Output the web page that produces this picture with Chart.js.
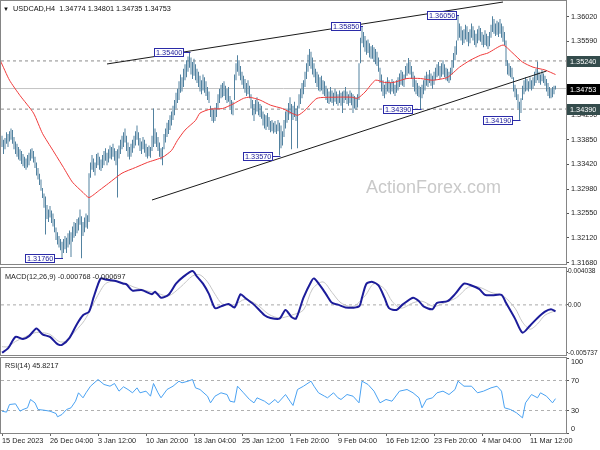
<!DOCTYPE html>
<html><head><meta charset="utf-8">
<script src="https://cdn.jsdelivr.net/npm/chart.js@4/dist/chart.umd.min.js"></script>
<style>
html,body{margin:0;padding:0;background:#fff;}
#wrap{position:relative;width:600px;height:450px;overflow:hidden;background:#fff;}
canvas{position:absolute;left:0;top:0;}
</style></head><body>
<div id="wrap">
<canvas id="c1" width="600" height="450"></canvas>
<canvas id="c2" width="600" height="450"></canvas>
<canvas id="c3" width="600" height="450"></canvas>
</div>
<script>
// ---------- DATA ----------
const symbolTitle = 'USDCAD,H4  1.34774 1.34801 1.34735 1.34753';
const tickIdx = [0, 32, 64, 96, 128, 160, 192, 224, 256, 288, 320, 352];
const tickLabels = ['15 Dec 2023','26 Dec 04:00','3 Jan 12:00','10 Jan 20:00','18 Jan 04:00','25 Jan 12:00','1 Feb 20:00','9 Feb 04:00','16 Feb 12:00','23 Feb 20:00','4 Mar 04:00','11 Mar 12:00'];
const priceTicks = [1.31680,1.32120,1.32550,1.32980,1.33420,1.33850,1.34290,1.34720,1.35160,1.35590,1.36020];

const highs = [
1.3392,1.3385,1.3388,1.3398,1.3395,1.3400,1.3405,1.3402,1.3390,1.3382,
1.3378,1.3372,1.3368,1.3365,1.3360,1.3355,1.3352,1.3358,1.3362,1.3368,
1.3370,1.3365,1.3355,1.3345,1.3335,1.3325,1.3315,1.3300,1.3290,1.3285,
1.3270,1.3262,1.3268,1.3260,1.3255,1.3245,1.3230,1.3222,1.3215,1.3210,
1.3205,1.3210,1.3215,1.3212,1.3220,1.3225,1.3222,1.3232,1.3240,1.3238,
1.3245,1.3248,1.3262,1.3250,1.3240,1.3248,1.3255,1.3252,1.3326,1.3345,
1.3358,1.3352,1.3345,1.3360,1.3362,1.3355,1.3350,1.3358,1.3365,1.3370,
1.3362,1.3368,1.3375,1.3372,1.3378,1.3370,1.3365,1.3368,1.3375,1.3385,
1.3392,1.3398,1.3405,1.3392,1.3380,1.3372,1.3378,1.3385,1.3392,1.3400,
1.3410,1.3398,1.3388,1.3382,1.3390,1.3385,1.3378,1.3372,1.3375,1.3372,
1.3392,1.3440,1.3405,1.3398,1.3390,1.3380,1.3370,1.3372,1.3395,1.3405,
1.3415,1.3420,1.3428,1.3435,1.3445,1.3455,1.3468,1.3475,1.3488,1.3500,
1.3495,1.3510,1.3518,1.3525,1.3532,1.3540,1.3530,1.3522,1.3528,1.3518,
1.3510,1.3505,1.3498,1.3490,1.3500,1.3495,1.3488,1.3478,1.3470,1.3445,
1.3440,1.3438,1.3442,1.3450,1.3465,1.3475,1.3482,1.3485,1.3488,1.3480,
1.3475,1.3478,1.3462,1.3455,1.3452,1.3500,1.3520,1.3534,1.3525,1.3515,
1.3505,1.3498,1.3492,1.3485,1.3490,1.3480,1.3465,1.3455,1.3448,1.3455,
1.3460,1.3452,1.3448,1.3445,1.3435,1.3430,1.3428,1.3432,1.3425,1.3418,
1.3420,1.3415,1.3418,1.3412,1.3420,1.3415,1.3410,1.3400,1.3420,1.3435,
1.3440,1.3450,1.3460,1.3448,1.3445,1.3452,1.3440,1.3445,1.3465,1.3475,
1.3485,1.3490,1.3505,1.3520,1.3535,1.3545,1.3540,1.3530,1.3520,1.3510,
1.3505,1.3500,1.3495,1.3498,1.3490,1.3488,1.3480,1.3475,1.3470,1.3478,
1.3472,1.3468,1.3475,1.3470,1.3465,1.3472,1.3468,1.3470,1.3472,1.3478,
1.3470,1.3465,1.3472,1.3468,1.3465,1.3462,1.3460,1.3465,1.3520,1.3565,
1.3585,1.3575,1.3568,1.3560,1.3562,1.3555,1.3550,1.3552,1.3548,1.3545,
1.3540,1.3530,1.3512,1.3500,1.3490,1.3482,1.3488,1.3495,1.3490,1.3485,
1.3492,1.3488,1.3482,1.3490,1.3495,1.3502,1.3508,1.3505,1.3500,1.3515,
1.3520,1.3529,1.3522,1.3515,1.3505,1.3498,1.3490,1.3485,1.3480,1.3478,
1.3482,1.3490,1.3498,1.3505,1.3500,1.3508,1.3502,1.3498,1.3505,1.3512,
1.3518,1.3522,1.3515,1.3520,1.3525,1.3518,1.3512,1.3510,1.3505,1.3512,
1.3525,1.3538,1.3550,1.3560,1.3605,1.3590,1.3585,1.3578,1.3580,1.3588,
1.3585,1.3575,1.3580,1.3590,1.3585,1.3578,1.3572,1.3580,1.3586,1.3582,
1.3575,1.3570,1.3578,1.3572,1.3568,1.3575,1.3588,1.3603,1.3598,1.3590,
1.3595,1.3592,1.3598,1.3590,1.3585,1.3575,1.3560,1.3525,1.3520,1.3515,
1.3512,1.3495,1.3482,1.3475,1.3465,1.3452,1.3458,1.3480,1.3490,1.3495,
1.3492,1.3488,1.3495,1.3490,1.3495,1.3505,1.3510,1.3523,1.3505,1.3500,
1.3508,1.3502,1.3498,1.3492,1.3485,1.3478,1.3475,1.3478,1.3480,1.34801
];
const lows = [
1.3372,1.3360,1.3368,1.3378,1.3372,1.3382,1.3385,1.3378,1.3368,1.3360,
1.3355,1.3350,1.3348,1.3342,1.3338,1.3335,1.3332,1.3336,1.3340,1.3348,
1.3352,1.3345,1.3335,1.3322,1.3315,1.3305,1.3295,1.3282,1.3265,1.3218,
1.3245,1.3240,1.3248,1.3238,1.3232,1.3222,1.3208,1.3200,1.3195,1.3190,
1.3176,1.3185,1.3192,1.3185,1.3195,1.3200,1.3178,1.3205,1.3212,1.3215,
1.3220,1.3225,1.3235,1.3176,1.3215,1.3222,1.3230,1.3228,1.3240,1.3318,
1.3332,1.3328,1.3322,1.3335,1.3340,1.3332,1.3330,1.3335,1.3340,1.3348,
1.3340,1.3345,1.3352,1.3350,1.3355,1.3348,1.3340,1.3283,1.3352,1.3360,
1.3368,1.3372,1.3380,1.3365,1.3355,1.3350,1.3355,1.3362,1.3370,1.3375,
1.3385,1.3375,1.3365,1.3360,1.3368,1.3362,1.3355,1.3352,1.3356,1.3353,
1.3365,1.3372,1.3378,1.3372,1.3365,1.3355,1.3350,1.3340,1.3368,1.3380,
1.3390,1.3395,1.3402,1.3410,1.3420,1.3428,1.3440,1.3450,1.3455,1.3468,
1.3470,1.3478,1.3490,1.3495,1.3505,1.3512,1.3500,1.3492,1.3498,1.3490,
1.3485,1.3478,1.3470,1.3465,1.3472,1.3468,1.3462,1.3455,1.3450,1.3425,
1.3418,1.3415,1.3418,1.3425,1.3440,1.3450,1.3458,1.3460,1.3462,1.3455,
1.3450,1.3452,1.3440,1.3430,1.3428,1.3455,1.3490,1.3505,1.3498,1.3490,
1.3482,1.3475,1.3468,1.3462,1.3465,1.3458,1.3440,1.3428,1.3418,1.3430,
1.3435,1.3428,1.3425,1.3422,1.3410,1.3405,1.3402,1.3408,1.3402,1.3398,
1.3400,1.3396,1.3398,1.3395,1.3400,1.3357,1.3370,1.3375,1.3390,1.3405,
1.3415,1.3420,1.3430,1.3368,1.3420,1.3425,1.3418,1.3370,1.3440,1.3448,
1.3458,1.3465,1.3478,1.3492,1.3505,1.3515,1.3510,1.3500,1.3495,1.3485,
1.3478,1.3472,1.3470,1.3472,1.3465,1.3462,1.3455,1.3450,1.3448,1.3452,
1.3450,1.3445,1.3452,1.3448,1.3445,1.3450,1.3445,1.3432,1.3450,1.3455,
1.3448,1.3445,1.3450,1.3446,1.3432,1.3440,1.3438,1.3442,1.3455,1.3520,
1.3555,1.3548,1.3540,1.3535,1.3538,1.3530,1.3528,1.3528,1.3522,1.3518,
1.3515,1.3505,1.3485,1.3470,1.3462,1.3458,1.3465,1.3470,1.3468,1.3465,
1.3470,1.3466,1.3462,1.3468,1.3472,1.3478,1.3482,1.3480,1.3478,1.3492,
1.3498,1.3502,1.3500,1.3492,1.3478,1.3470,1.3465,1.3462,1.3460,1.3439,
1.3458,1.3465,1.3472,1.3480,1.3478,1.3485,1.3480,1.3475,1.3482,1.3490,
1.3495,1.3498,1.3492,1.3496,1.3500,1.3495,1.3490,1.3488,1.3485,1.3490,
1.3500,1.3512,1.3525,1.3535,1.3560,1.3565,1.3560,1.3552,1.3555,1.3562,
1.3558,1.3550,1.3555,1.3565,1.3560,1.3552,1.3548,1.3555,1.3560,1.3558,
1.3552,1.3548,1.3552,1.3550,1.3545,1.3550,1.3565,1.3575,1.3572,1.3568,
1.3570,1.3566,1.3572,1.3565,1.3558,1.3552,1.3515,1.3500,1.3498,1.3495,
1.3492,1.3470,1.3460,1.3455,1.3440,1.3419,1.3432,1.3455,1.3465,1.3470,
1.3472,1.3470,1.3475,1.3472,1.3475,1.3480,1.3485,1.3490,1.3485,1.3482,
1.3488,1.3485,1.3480,1.3470,1.3462,1.3458,1.3458,1.3460,1.3465,1.34735
];

const maIdx = [-1,5,12,21,27,34,41,47,54,58,65,71,80,89,97,107,113,117,122,129,132,139,147,154,161,165,172,179,187,197,202,210,222,233,237,242,249,255,261,270,279,287,297,305,312,319,324,334,340,347,354,362,369];
const maVal = [1.3524,1.3490,1.3463,1.3432,1.3396,1.3366,1.3336,1.3310,1.3292,1.3283,1.3296,1.3308,1.3326,1.3336,1.3345,1.3354,1.3366,1.3384,1.3402,1.3419,1.3432,1.3439,1.3440,1.3448,1.3458,1.3460,1.3455,1.3446,1.3440,1.3428,1.3437,1.3458,1.3460,1.3460,1.3458,1.3469,1.3490,1.3486,1.3486,1.3493,1.3493,1.3490,1.3495,1.3513,1.3525,1.3534,1.3538,1.3552,1.3539,1.3522,1.3513,1.3508,1.3500];

const trendUpperIdx = [70, 334];
const trendUpperVal = [1.35186, 1.36279];
const trendLowerIdx = [100, 363];
const trendLowerVal = [1.32787, 1.35062];

const levelLines = [1.35240, 1.34390];
const lastPrice = 1.34753;

const markIdx = [40, 125, 185, 240, 279, 304, 345];
const markVal = [1.31760, 1.35400, 1.33570, 1.35850, 1.34390, 1.36050, 1.34190];

const macdTitle = 'MACD(12,26,9) -0.000768 -0.000697';
const macdTicks = [0.004038, 0, -0.005737];
const macdIdx = [0,4,9,14,18,23,27,32,37,40,45,50,54,58,61,64,66,69,75,81,83,87,93,100,102,106,111,116,121,127,130,134,138,142,146,151,155,159,162,168,175,179,185,189,193,196,201,206,208,212,216,220,224,229,238,240,243,247,251,255,258,263,267,274,278,281,287,290,297,302,308,313,318,322,327,333,336,342,347,352,357,362,366,369];
const macdVal = [-0.00570,-0.00520,-0.00382,-0.00407,-0.00373,-0.00281,-0.00352,-0.00382,-0.00469,-0.00478,-0.00394,-0.00227,-0.00123,-0.00081,0.00086,0.00245,0.00316,0.00303,0.00287,0.00253,0.00245,0.00170,0.00178,0.00128,0.00157,0.00086,0.00120,0.00253,0.00337,0.00403,0.00337,0.00253,0.00128,-0.00039,-0.00018,0.00011,-0.00031,0.00128,0.00086,0.00003,-0.00123,-0.00156,-0.00164,-0.00060,-0.00144,-0.00164,0.00086,0.00274,0.00316,0.00232,0.00128,0.00024,0.00003,-0.00031,-0.00018,0.00086,0.00253,0.00274,0.00232,0.00086,-0.00039,-0.00060,0.00003,0.00086,0.00044,-0.00018,-0.00052,0.00024,0.00044,0.00128,0.00253,0.00232,0.00191,0.00120,0.00115,0.00120,0.00024,-0.00164,-0.00332,-0.00248,-0.00156,-0.00081,-0.00052,-0.000768];
const signalIdx = [0,4,9,14,22,27,32,38,42,49,55,60,65,69,74,81,88,96,104,111,119,127,132,137,142,147,155,162,170,178,185,193,201,207,214,220,226,234,242,248,255,260,266,274,280,288,295,303,311,318,326,334,342,347,352,357,362,369];
const signalVal = [-0.00499,-0.00499,-0.00436,-0.00394,-0.00332,-0.00332,-0.00352,-0.00436,-0.00436,-0.00311,-0.00185,-0.00018,0.00149,0.00253,0.00283,0.00262,0.00212,0.00170,0.00136,0.00107,0.00212,0.00345,0.00358,0.00274,0.00128,0.00011,0.00003,0.00065,0.00003,-0.00114,-0.00156,-0.00123,-0.00060,0.00191,0.00274,0.00149,0.00024,-0.00018,0.00107,0.00253,0.00191,0.00044,-0.00039,0.00024,0.00044,-0.00018,0.00024,0.00086,0.00212,0.00212,0.00149,0.00107,-0.00039,-0.00206,-0.00290,-0.00227,-0.00123,-0.000697];

const rsiTitle = 'RSI(14) 45.8217';
const rsiTicks = [0, 30, 70, 100];
const rsiLevels = [70, 30];
const rsiIdx = [0,3,5,9,12,14,17,19,22,24,28,32,36,37,40,43,46,49,51,54,56,59,64,68,72,75,78,81,84,87,90,92,96,99,101,104,106,110,114,118,120,124,127,129,132,137,139,142,146,150,152,155,157,161,165,168,170,175,178,182,184,189,192,194,197,201,206,208,211,215,217,221,224,226,230,234,238,240,244,248,252,256,260,265,270,274,278,280,283,287,290,294,298,302,304,308,313,317,321,326,330,333,335,339,343,347,349,353,357,359,363,367,369];
const rsiVal = [29.1,27.8,38,38.9,29.1,31.3,33.6,44.7,40.2,31.3,30.4,29.1,26,21.6,24.7,31.3,33.6,42.4,53.6,46.9,53.6,62.4,71.3,64.7,62.4,66,55.8,61.6,58,53.6,60.2,53.6,55.8,49.1,66,53.6,46.9,58,62.4,69.1,66.9,69.1,71.3,60.2,58,49.1,40.2,49.1,53.6,51.3,42.4,41.1,62.4,53.6,44.7,40.2,46.9,42.4,38,44.7,40.2,51.3,42.4,36.7,58,62.4,69.1,62.4,53.6,49.1,46.9,53.6,46.9,44.7,51.3,49.1,40.2,69.1,64.7,55.8,40.2,44.7,42.4,55.8,58,53.6,46.9,33.6,44.7,46.9,53.6,55.8,51.3,58,69.1,62.4,62.4,53.6,55.8,60.2,62.4,55.8,33.6,31.3,26.9,20.2,40.2,51.3,46.9,53.6,49.1,40.2,45.8217];

// ---------- STYLE / LAYOUT ----------
const FONT = "'Liberation Sans', Arial, sans-serif";
const FS = 7.3;
Chart.defaults.font.family = FONT;
Chart.defaults.font.size = FS;
Chart.defaults.color = '#1e1e1e';
Chart.defaults.animation = false;
Chart.defaults.plugins.legend.display = false;
Chart.defaults.plugins.tooltip.enabled = false;

const X_MIN = -0.667, X_MAX = 376;
const AXIS_W = 34;

function xAxis(show) {
  return {
    type: 'linear', min: X_MIN, max: X_MAX, offset: false, display: show,
    grid: { display: true, drawOnChartArea: false, drawTicks: true, tickLength: 3, color: '#666' },
    border: { display: false },
    ticks: { autoSkip: false, maxRotation: 0, minRotation: 0, align: 'start', padding: 1, color: '#1e1e1e',
      font: { size: FS },
      callback: (v) => { const k = tickIdx.indexOf(v); return k >= 0 ? tickLabels[k] : ''; } },
    afterBuildTicks: (s) => { s.ticks = tickIdx.map(v => ({ value: v })); },
    afterFit: (s) => { s.height = show ? 14 : 0; s.paddingLeft = 0; s.paddingRight = 0; }
  };
}
function yAxis(min, max, ticks, fmt, pad, fsize, tlen) {
  return {
    type: 'linear', position: 'right', min: min, max: max,
    grid: { display: true, drawOnChartArea: false, drawTicks: true, tickLength: tlen || 3, color: '#555' },
    border: { display: true, color: '#6a6a6a', width: 1 },
    ticks: { autoSkip: false, padding: pad, color: '#1e1e1e', font: { size: fsize || FS }, callback: fmt },
    afterBuildTicks: (s) => { s.ticks = ticks.map(v => ({ value: v })); },
    afterFit: (s) => { s.width = AXIS_W; s.paddingTop = 0; s.paddingBottom = 0; }
  };
}
const panelFrame = {
  id: 'panelFrame',
  afterDraw(chart) {
    const { ctx, chartArea: a } = chart;
    ctx.save();
    ctx.strokeStyle = '#858585'; ctx.lineWidth = 1;
    const L = Math.round(a.left) - 0.5, T = Math.round(a.top) - 0.5;
    const R = Math.round(a.right) + 0.5, B = Math.round(a.bottom) + 0.5;
    ctx.strokeRect(L, T, R - L, B - T);
    ctx.restore();
  }
};
function panelTitle(text, x, y) {
  return {
    id: 'title_' + Math.round(y),
    afterDraw(chart) {
      const ctx = chart.ctx;
      ctx.save();
      ctx.font = FS + 'px ' + FONT;
      ctx.fillStyle = '#1e1e1e';
      ctx.textBaseline = 'alphabetic';
      ctx.fillText(text, x, y);
      ctx.restore();
    }
  };
}
const pts = (idx, val) => idx.map((v, k) => ({ x: v, y: val[k] }));
const hline = (v) => [{ x: X_MIN, y: v }, { x: X_MAX, y: v }];

// ---------- MAIN PANEL ----------
const mainDecor = {
  id: 'mainDecor',
  beforeDatasetsDraw(chart) {
    const ctx = chart.ctx;
    ctx.save();
    ctx.font = '18px ' + FONT;
    ctx.fillStyle = '#c9c9c9';
    ctx.textBaseline = 'alphabetic';
    ctx.fillText('ActionForex.com', 366, 193);
    ctx.restore();
  },
  afterDraw(chart) {
    const ctx = chart.ctx, xs = chart.scales.x, ys = chart.scales.y;
    ctx.save();
    ctx.fillStyle = '#111';
    ctx.font = '6px ' + FONT;
    ctx.fillText('\u25BC', 3, 10.5);
    ctx.font = FS + 'px ' + FONT;
    ctx.fillText(symbolTitle, 13, 10.5);
    const gaps = [7, 6, 7, 1, 8, 1, 7];
    ctx.font = FS + 'px ' + FONT;
    ctx.textBaseline = 'middle';
    markIdx.forEach((idx, k) => {
      const ax = xs.getPixelForValue(idx);
      const ay = Math.round(ys.getPixelForValue(markVal[k]));
      const txt = markVal[k].toFixed(5);
      const w = Math.round(ctx.measureText(txt).width) + 4, h = 9;
      const right = Math.round(ax - gaps[k]);
      const left = right - w;
      ctx.strokeStyle = '#2b2ba8'; ctx.lineWidth = 1;
      ctx.beginPath(); ctx.moveTo(right, ay + 0.5); ctx.lineTo(ax + 1, ay + 0.5); ctx.stroke();
      ctx.fillStyle = '#fff';
      ctx.fillRect(left, ay - 4, w, h);
      ctx.strokeRect(left + 0.5, ay - 4 + 0.5, w - 1, h - 1);
      ctx.fillStyle = '#1d1d9a';
      ctx.fillText(txt, left + 2, ay + 1);
    });
    const boxes = levelLines.map(v => ({ v: v, c: '#344c4c' })).concat([{ v: lastPrice, c: '#000' }]);
    boxes.forEach(b => {
      const y = Math.round(ys.getPixelForValue(b.v));
      ctx.fillStyle = b.c;
      ctx.fillRect(567, y - 5, 33, 11);
      ctx.fillStyle = '#fff';
      ctx.fillText(b.v.toFixed(5), 570, y + 1);
    });
    ctx.restore();
  }
};

new Chart(document.getElementById('c1'), {
  type: 'bar',
  data: {
    datasets: [
      { type: 'line', data: pts(trendUpperIdx, trendUpperVal), borderColor: '#1a1a1a', borderWidth: 1, pointRadius: 0, order: 0 },
      { type: 'line', data: pts(trendLowerIdx, trendLowerVal), borderColor: '#1a1a1a', borderWidth: 1, pointRadius: 0, order: 0 },
      { type: 'line', data: pts(maIdx, maVal), borderColor: '#f03a3a', borderWidth: 1, pointRadius: 0, tension: 0.2, order: 1 },
      { type: 'bar', data: highs.map((h, i) => ({ x: i, y: [lows[i], h] })), backgroundColor: '#5282a0', borderWidth: 0, barThickness: 1, inflateAmount: 0, grouped: false, order: 2 },
      { type: 'line', data: hline(lastPrice), borderColor: '#c4c4c4', borderWidth: 1, pointRadius: 0, order: 3 },
      { type: 'line', data: hline(levelLines[0]), borderColor: '#8c8c8c', borderWidth: 1, borderDash: [3, 3], pointRadius: 0, order: 3 },
      { type: 'line', data: hline(levelLines[1]), borderColor: '#8c8c8c', borderWidth: 1, borderDash: [3, 3], pointRadius: 0, order: 3 }
    ]
  },
  options: {
    responsive: false, devicePixelRatio: 1, animation: false,
    layout: { padding: { left: 1, right: 0, top: 1, bottom: 186 } },
    scales: {
      x: xAxis(false),
      y: yAxis(1.31658, 1.36297, priceTicks, (v) => v.toFixed(5), 2)
    }
  },
  plugins: [panelFrame, mainDecor]
});

// ---------- MACD PANEL ----------
const zeroLine = [0];
new Chart(document.getElementById('c2'), {
  type: 'line',
  data: {
    datasets: [
      { data: pts(macdIdx, macdVal), borderColor: '#1c1c9a', borderWidth: 2, pointRadius: 0, tension: 0.25, order: 0 },
      { data: pts(signalIdx, signalVal), borderColor: '#c6c6c6', borderWidth: 1, pointRadius: 0, tension: 0.3, order: 1 },
      { data: hline(zeroLine[0]), borderColor: '#a8a8a8', borderWidth: 1, borderDash: [3, 3], pointRadius: 0, order: 2 }
    ]
  },
  options: {
    responsive: false, devicePixelRatio: 1, animation: false,
    layout: { padding: { left: 1, right: 0, top: 268, bottom: 95 } },
    scales: {
      x: xAxis(false),
      y: yAxis(-0.00598, 0.00440, macdTicks, (v) => v === 0 ? '0.00' : v.toFixed(6), 0, 6.6, 2)
    }
  },
  plugins: [panelFrame, panelTitle(macdTitle, 5, 279)]
});

// ---------- RSI PANEL ----------
new Chart(document.getElementById('c3'), {
  type: 'line',
  data: {
    datasets: [
      { data: pts(rsiIdx, rsiVal), borderColor: '#4aa2f2', borderWidth: 1, pointRadius: 0, tension: 0, order: 0 },
      { data: hline(rsiLevels[0]), borderColor: '#b0b0b0', borderWidth: 1, borderDash: [3, 3], pointRadius: 0, order: 1 },
      { data: hline(rsiLevels[1]), borderColor: '#b0b0b0', borderWidth: 1, borderDash: [3, 3], pointRadius: 0, order: 1 }
    ]
  },
  options: {
    responsive: false, devicePixelRatio: 1, animation: false,
    layout: { padding: { left: 1, right: 0, top: 358, bottom: 3 } },
    scales: {
      x: xAxis(true),
      y: yAxis(0, 100, rsiTicks, (v) => v === 100 ? ['', '100'] : (v === 0 ? ['0', ''] : String(v)), 2)
    }
  },
  plugins: [panelFrame, panelTitle(rsiTitle, 5, 368)]
});
</script>
</body></html>
